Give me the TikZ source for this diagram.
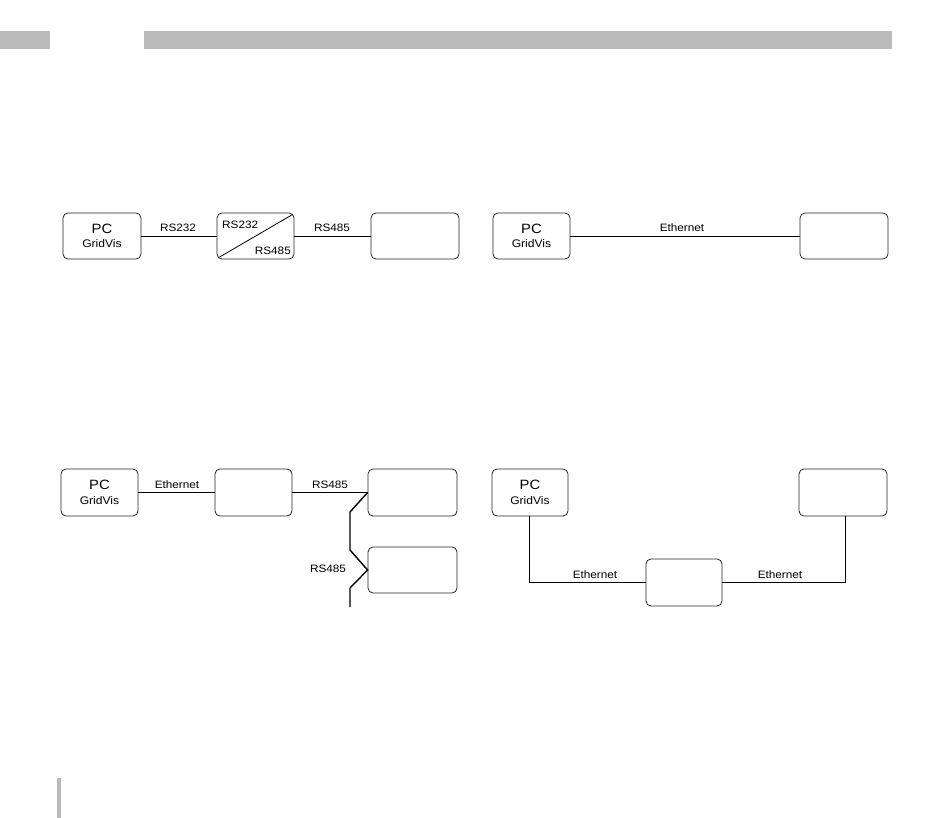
\documentclass[tikz,border=0pt]{standalone}
\usepackage{fontspec}
\setmainfont{Liberation Sans}[FakeStretch=1.1]
\usetikzlibrary{calc}
\begin{document}
\begin{tikzpicture}[x=1pt,y=-1pt,
  box/.style={draw=black!85,line width=0.8pt,rounded corners=5pt,inner sep=0pt},
  lbl/.style={font=\fontsize{10.7}{12}\selectfont,inner sep=0pt},
  wire/.style={draw=black,line width=0.8pt},
  bus/.style={draw=black,line width=1.4pt},
  bar/.style={fill=black!27,draw=none}]
\useasboundingbox (0,0) rectangle (950,818);
\fill[bar] (0,31) rectangle (50,49);
\fill[bar] (144,31) rectangle (892,49);
\fill[bar] (57,778) rectangle (61,818);
\newcommand{\pclabel}{{\fontsize{13.5}{14}\selectfont PC}\\[2.5pt]{\fontsize{11}{12}\selectfont GridVis}}
% Diagram 1
\node[box,minimum width=78pt,minimum height=46pt,align=center] (pcA) at (102,236) {\pclabel};
\node[box,minimum width=77pt,minimum height=46pt] (conv) at (255.5,236) {};
\node[box,minimum width=88pt,minimum height=46pt] (devA) at (415,236) {};
\draw[wire] (pcA) -- (conv);
\draw[wire] (conv) -- (devA);
\draw[wire] ($(conv.south west)+(1.5,-1.5)$) -- ($(conv.north east)+(-2,2)$);
\node[lbl] (lA1) at (178,228) {RS232};
\node[lbl] (lA2) at (332,228) {RS485};
\node[lbl,anchor=base west] (cv1) at (222,229) {RS232};
\node[lbl,anchor=base east] (cv2) at (291,255) {RS485};
% Diagram 2
\node[box,minimum width=77pt,minimum height=46pt,align=center] (pcB) at (531.5,236) {\pclabel};
\node[box,minimum width=88pt,minimum height=46pt] (devB) at (844,236) {};
\draw[wire] (pcB) -- (devB);
\node[lbl] (lB) at (682,228) {Ethernet};
% Diagram 3
\node[box,minimum width=77pt,minimum height=47pt,align=center] (pcC) at (99.5,492.5) {\pclabel};
\node[box,minimum width=77pt,minimum height=47pt] (gwC) at (253.5,492.5) {};
\node[box,minimum width=89pt,minimum height=47pt] (devC1) at (412.5,492.5) {};
\node[box,minimum width=89pt,minimum height=46pt] (devC2) at (412.5,570) {};
\draw[wire] (pcC) -- (gwC);
\draw[bus] (gwC) -- (devC1);
\coordinate (b1) at (350,512);
\coordinate (b2) at (350,550);
\coordinate (b3) at (350,588);
\coordinate (b4) at (350,607);
\draw[bus,line join=miter] (devC1.west) -- (b1) -- (b2) -- (devC2.west) -- (b3) -- (b4);
\node[lbl] (lC1) at (177,485) {Ethernet};
\node[lbl] (lC2) at (330,485) {RS485};
\node[lbl] (lC3) at (328,569) {RS485};
% Diagram 4
\node[box,minimum width=76pt,minimum height=47pt,align=center] (pcD) at (530,492.5) {\pclabel};
\node[box,minimum width=88pt,minimum height=47pt] (devD) at (843,492.5) {};
\node[box,minimum width=76pt,minimum height=47pt] (gwD) at (684,582.5) {};
\coordinate (d1) at (529,582.5);
\coordinate (d2) at (845,582.5);
\draw[wire] (pcD.south -| d1) -- (d1) -- (gwD.west);
\draw[wire] (gwD.east) -- (d2) -- (devD.south -| d2);
\node[lbl] (lD1) at (595,575) {Ethernet};
\node[lbl] (lD2) at (780,575) {Ethernet};
\end{tikzpicture}
\end{document}
